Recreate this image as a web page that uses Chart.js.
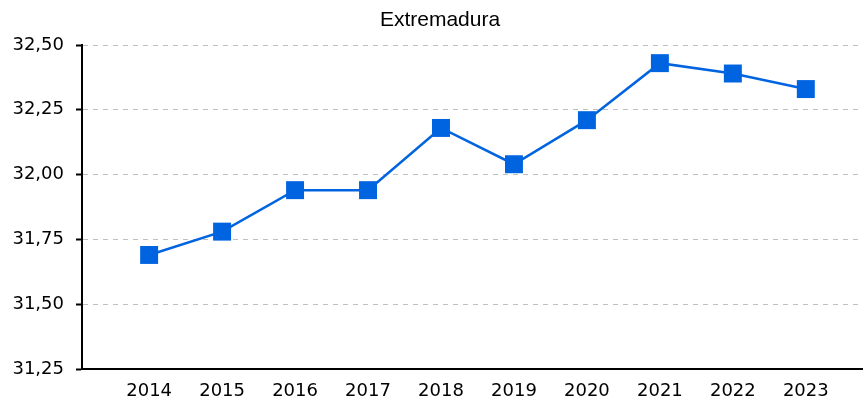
<!DOCTYPE html>
<html>
<head>
<meta charset="utf-8">
<script src="https://cdn.jsdelivr.net/npm/chart.js@4/dist/chart.umd.min.js"></script>
<style>
  html, body { margin: 0; padding: 0; background: #fff; }
</style>
</head>
<body>
<canvas id="chart" width="864" height="402"></canvas>
<script>
var chartTitle = 'Extremadura';
var years = [2014, 2015, 2016, 2017, 2018, 2019, 2020, 2021, 2022, 2023];
var values = [31.69, 31.78, 31.94, 31.94, 32.18, 32.04, 32.21, 32.43, 32.39, 32.33];
var yTicks = [31.25, 31.50, 31.75, 32.00, 32.25, 32.50];

var points = years.map(function (yr, i) {
    return { x: yr, y: values[i] };
});

// title is drawn a bit right of the canvas centre, like in the original
var titlePlugin = {
    id: 'titleText',
    afterDraw: function (chart) {
        var c = chart.ctx;
        c.save();
        c.font = '21px "Liberation Sans"';
        c.fillStyle = '#000';
        c.textAlign = 'center';
        c.textBaseline = 'alphabetic';
        c.fillText(chartTitle, 440, 26);
        c.restore();
    }
};

const ctx = document.getElementById('chart');
const chart = new Chart(ctx, {
    type: 'line',
    data: {
        datasets: [{
            label: chartTitle,
            data: points,
            borderColor: '#0064e0',
            backgroundColor: '#0064e0',
            borderWidth: 2.5,
            pointStyle: 'rect',
            pointRadius: 12.7,
            pointBorderWidth: 0,
            tension: 0
        }]
    },
    options: {
        responsive: false,
        animation: false,
        layout: {
            autoPadding: false,
            padding: { left: 0, right: 2, top: 45, bottom: 0 }
        },
        plugins: {
            legend: { display: false },
            tooltip: { enabled: false },
            title: { display: false }
        },
        scales: {
            x: {
                type: 'linear',
                min: 2013.08,
                max: 2023.77,
                afterBuildTicks: function (axis) {
                    axis.ticks = years.map(function (v) { return { value: v }; });
                },
                afterFit: function (axis) {
                    axis.height = 33;
                    axis.paddingLeft = 0;
                    axis.paddingRight = 0;
                },
                grid: { display: false, drawTicks: false },
                border: { display: true, color: '#000', width: 2 },
                ticks: {
                    color: '#000',
                    padding: 12,
                    font: { family: 'DejaVu Sans', size: 18 },
                    callback: function (v) { return String(v); }
                }
            },
            y: {
                min: 31.25,
                max: 32.5,
                afterBuildTicks: function (axis) {
                    axis.ticks = yTicks.map(function (v) { return { value: v }; });
                },
                afterFit: function (axis) {
                    axis.width = 82;
                    axis.paddingTop = 0;
                    axis.paddingBottom = 0;
                },
                grid: {
                    color: '#c0c0c0',
                    lineWidth: 1,
                    drawTicks: true,
                    tickLength: 6,
                    tickColor: '#000',
                    tickWidth: 2
                },
                border: { display: true, color: '#000', width: 2, dash: [5, 5] },
                ticks: {
                    color: '#000',
                    padding: 12,
                    font: { family: 'DejaVu Sans', size: 18 },
                    callback: function (v) { return v.toFixed(2).replace('.', ','); }
                }
            }
        }
    },
    plugins: [titlePlugin]
});
</script>
</body>
</html>
